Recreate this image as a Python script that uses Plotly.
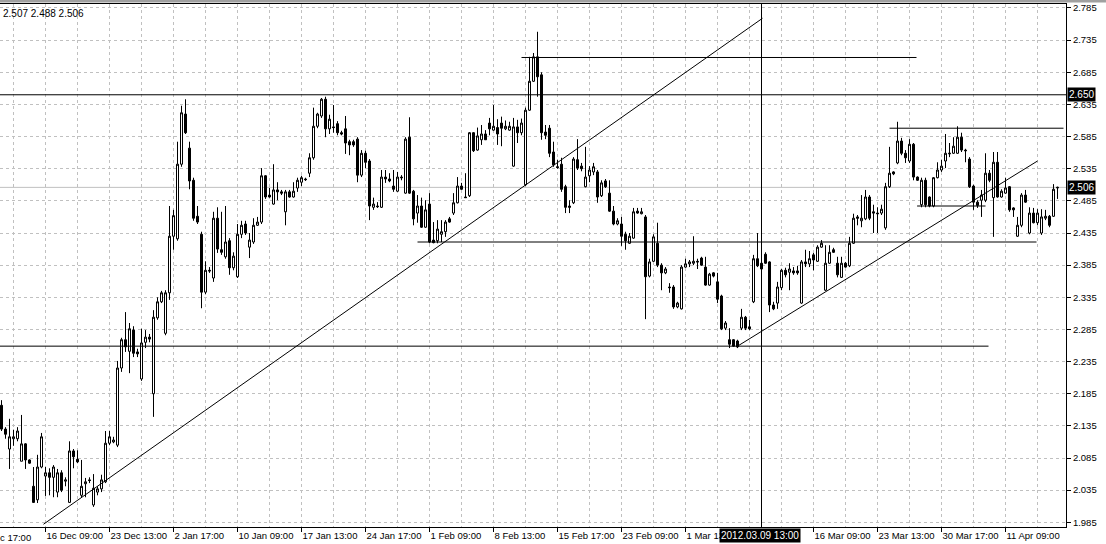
import plotly.graph_objects as go

# ---------------- data (bar index = position on the time axis) ----------------
bars = list(range(265))

opens = [
2.167,2.130,2.099,2.115,2.115,2.080,2.107,2.082,2.041,2.020,
2.071,2.057,2.062,2.055,2.032,2.062,2.049,2.016,2.096,2.083,
2.027,2.045,2.051,2.012,2.032,2.037,2.048,2.108,2.110,2.105,
2.225,2.269,2.251,2.284,2.250,2.208,2.265,2.273,2.185,2.303,
2.328,2.279,2.342,2.430,2.426,2.542,2.620,2.567,2.517,2.461,
2.433,2.343,2.377,2.365,2.458,2.409,2.398,2.423,2.381,2.367,
2.433,2.449,2.413,2.421,2.447,2.452,2.524,2.494,2.480,2.502,
2.499,2.468,2.499,2.491,2.505,2.514,2.519,2.528,2.552,2.601,
2.617,2.643,2.597,2.600,2.605,2.591,2.597,2.577,2.577,2.581,
2.525,2.559,2.547,2.475,2.477,2.475,2.522,2.519,2.508,2.500,
2.522,2.497,2.584,2.500,2.466,2.477,2.444,2.480,2.424,2.423,
2.433,2.437,2.457,2.466,2.482,2.508,2.491,2.493,2.591,2.564,
2.580,2.589,2.606,2.595,2.599,2.606,2.597,2.595,2.539,2.600,
2.591,2.510,2.626,2.671,2.709,2.681,2.592,2.598,2.561,2.538,
2.542,2.507,2.477,2.482,2.549,2.539,2.507,2.524,2.530,2.530,
2.493,2.516,2.497,2.469,2.449,2.449,2.433,2.419,2.427,2.469,
2.465,2.460,2.368,2.391,2.419,2.385,2.373,2.351,2.351,2.320,
2.317,2.382,2.387,2.388,2.391,2.396,2.382,2.354,2.373,2.359,
2.337,2.287,2.269,2.269,2.267,2.287,2.304,2.289,2.328,2.395,
2.388,2.402,2.390,2.323,2.326,2.350,2.377,2.374,2.376,2.376,
2.326,2.390,2.387,2.401,2.391,2.413,2.346,2.388,2.409,2.388,
2.366,2.388,2.384,2.419,2.460,2.454,2.457,2.491,2.468,2.466,
2.466,2.443,2.507,2.530,2.544,2.578,2.559,2.547,2.573,2.522,
2.479,2.517,2.491,2.477,2.521,2.533,2.547,2.558,2.559,2.559,
2.584,2.564,2.550,2.508,2.483,2.486,2.486,2.528,2.490,2.545,
2.491,2.497,2.507,2.474,2.430,2.447,2.494,2.435,2.466,2.451,
2.435,2.458,2.461,2.461,2.505]

highs = [
2.175,2.133,2.146,2.129,2.133,2.152,2.108,2.083,2.071,2.090,
2.124,2.071,2.069,2.074,2.068,2.066,2.055,2.111,2.099,2.097,
2.082,2.054,2.055,2.060,2.041,2.059,2.127,2.127,2.118,2.236,
2.272,2.312,2.295,2.290,2.255,2.286,2.284,2.278,2.315,2.335,
2.345,2.346,2.477,2.471,2.577,2.633,2.643,2.577,2.521,2.477,
2.437,2.391,2.382,2.468,2.475,2.468,2.477,2.427,2.405,2.449,
2.454,2.454,2.435,2.458,2.460,2.536,2.525,2.505,2.542,2.514,
2.502,2.502,2.502,2.514,2.521,2.524,2.521,2.559,2.630,2.622,
2.645,2.647,2.619,2.634,2.609,2.594,2.617,2.580,2.580,2.584,
2.564,2.563,2.550,2.490,2.483,2.533,2.533,2.528,2.533,2.530,
2.525,2.584,2.615,2.502,2.494,2.490,2.486,2.497,2.452,2.455,
2.455,2.455,2.460,2.497,2.522,2.513,2.528,2.592,2.592,2.599,
2.603,2.595,2.614,2.634,2.612,2.616,2.610,2.608,2.614,2.611,
2.613,2.630,2.709,2.715,2.748,2.685,2.603,2.603,2.577,2.549,
2.552,2.510,2.486,2.553,2.581,2.544,2.569,2.539,2.544,2.533,
2.517,2.519,2.517,2.477,2.458,2.460,2.437,2.435,2.474,2.474,
2.474,2.463,2.395,2.433,2.451,2.388,2.382,2.357,2.354,2.328,
2.385,2.395,2.393,2.430,2.395,2.398,2.398,2.373,2.374,2.373,
2.339,2.298,2.287,2.270,2.269,2.317,2.306,2.300,2.401,2.435,
2.398,2.405,2.391,2.328,2.359,2.379,2.381,2.388,2.382,2.384,
2.393,2.409,2.407,2.404,2.416,2.424,2.416,2.416,2.412,2.398,
2.398,2.390,2.429,2.465,2.463,2.494,2.502,2.494,2.479,2.475,
2.479,2.513,2.569,2.531,2.608,2.583,2.564,2.581,2.575,2.523,
2.521,2.521,2.492,2.522,2.545,2.549,2.589,2.575,2.584,2.601,
2.591,2.566,2.553,2.510,2.486,2.502,2.559,2.533,2.561,2.561,
2.503,2.521,2.508,2.475,2.460,2.497,2.502,2.475,2.474,2.472,
2.472,2.471,2.463,2.511,2.507]

lows = [
2.127,2.115,2.068,2.104,2.111,2.080,2.068,2.076,2.015,2.015,
2.069,2.026,2.027,2.024,2.024,2.032,2.041,2.015,2.069,2.077,
2.024,2.024,2.046,2.009,2.027,2.032,2.046,2.105,2.108,2.102,
2.219,2.250,2.217,2.242,2.242,2.205,2.256,2.265,2.149,2.300,
2.326,2.276,2.331,2.409,2.423,2.538,2.589,2.503,2.454,2.449,
2.318,2.340,2.373,2.359,2.404,2.401,2.395,2.370,2.377,2.365,
2.427,2.432,2.396,2.418,2.446,2.449,2.488,2.490,2.479,2.486,
2.494,2.447,2.490,2.490,2.499,2.508,2.516,2.522,2.549,2.598,
2.614,2.584,2.589,2.591,2.587,2.587,2.558,2.556,2.569,2.514,
2.522,2.536,2.455,2.471,2.474,2.474,2.513,2.514,2.499,2.499,
2.517,2.496,2.496,2.447,2.451,2.443,2.443,2.419,2.419,2.419,
2.421,2.429,2.451,2.463,2.481,2.502,2.490,2.491,2.561,2.563,
2.572,2.580,2.587,2.594,2.572,2.570,2.595,2.594,2.538,2.575,
2.587,2.508,2.625,2.670,2.647,2.580,2.581,2.553,2.538,2.535,
2.499,2.466,2.466,2.480,2.533,2.531,2.506,2.514,2.525,2.482,
2.491,2.505,2.468,2.447,2.447,2.415,2.409,2.418,2.426,2.465,
2.464,2.301,2.366,2.390,2.382,2.346,2.371,2.342,2.317,2.318,
2.316,2.381,2.382,2.385,2.379,2.384,2.353,2.353,2.366,2.326,
2.284,2.284,2.256,2.258,2.256,2.284,2.284,2.284,2.326,2.382,
2.377,2.387,2.312,2.315,2.317,2.346,2.366,2.346,2.370,2.370,
2.325,2.382,2.382,2.377,2.390,2.412,2.345,2.387,2.404,2.366,
2.365,2.381,2.382,2.418,2.447,2.444,2.455,2.455,2.435,2.435,
2.463,2.440,2.505,2.525,2.542,2.556,2.544,2.544,2.517,2.516,
2.475,2.475,2.475,2.475,2.520,2.530,2.536,2.553,2.558,2.558,
2.561,2.545,2.505,2.471,2.474,2.460,2.483,2.514,2.429,2.490,
2.490,2.496,2.468,2.460,2.429,2.444,2.482,2.433,2.450,2.447,
2.432,2.455,2.444,2.460,2.488]

closes = [
2.130,2.122,2.118,2.118,2.127,2.107,2.082,2.077,2.016,2.071,
2.118,2.062,2.055,2.071,2.062,2.035,2.051,2.096,2.087,2.079,
2.041,2.048,2.050,2.038,2.037,2.051,2.108,2.118,2.113,2.225,
2.269,2.258,2.286,2.248,2.247,2.264,2.273,2.270,2.304,2.328,
2.342,2.342,2.430,2.462,2.542,2.622,2.591,2.516,2.458,2.452,
2.343,2.377,2.376,2.458,2.410,2.405,2.421,2.381,2.399,2.433,
2.447,2.435,2.424,2.447,2.452,2.524,2.491,2.491,2.502,2.499,
2.497,2.499,2.491,2.500,2.517,2.521,2.518,2.552,2.601,2.620,
2.643,2.597,2.612,2.599,2.591,2.589,2.575,2.572,2.572,2.525,
2.559,2.545,2.477,2.480,2.476,2.522,2.519,2.516,2.503,2.522,
2.521,2.581,2.497,2.457,2.477,2.444,2.471,2.421,2.420,2.441,
2.437,2.452,2.452,2.482,2.508,2.503,2.490,2.591,2.563,2.586,
2.589,2.580,2.597,2.601,2.589,2.598,2.601,2.601,2.600,2.591,
2.606,2.626,2.671,2.709,2.678,2.591,2.587,2.559,2.541,2.537,
2.503,2.475,2.475,2.550,2.536,2.535,2.522,2.533,2.538,2.491,
2.513,2.507,2.469,2.449,2.454,2.430,2.423,2.430,2.468,2.466,
2.468,2.367,2.390,2.429,2.385,2.373,2.379,2.350,2.320,2.326,
2.382,2.387,2.390,2.391,2.390,2.385,2.354,2.371,2.368,2.332,
2.286,2.295,2.262,2.259,2.258,2.304,2.287,2.286,2.395,2.384,
2.379,2.388,2.323,2.317,2.351,2.377,2.370,2.379,2.373,2.373,
2.390,2.387,2.395,2.393,2.413,2.419,2.388,2.405,2.405,2.370,
2.388,2.382,2.419,2.458,2.458,2.458,2.491,2.458,2.466,2.465,
2.472,2.507,2.528,2.527,2.578,2.559,2.552,2.573,2.522,2.517,
2.517,2.479,2.477,2.521,2.533,2.539,2.559,2.559,2.570,2.584,
2.564,2.563,2.507,2.483,2.478,2.494,2.528,2.517,2.545,2.491,
2.500,2.505,2.471,2.471,2.447,2.494,2.483,2.466,2.451,2.466,
2.460,2.461,2.447,2.503,2.506]

tick_bars = [11, 27, 43, 59, 75, 91, 107, 123, 139, 155, 171, 203, 219, 235, 251]
tick_labels = ["16 Dec 09:00", "23 Dec 13:00", "2 Jan 17:00", "10 Jan 09:00",
               "17 Jan 13:00", "24 Jan 17:00", "1 Feb 09:00", "8 Feb 13:00",
               "15 Feb 17:00", "23 Feb 09:00", "1 Mar 13:00", "16 Mar 09:00",
               "23 Mar 13:00", "30 Mar 17:00", "11 Apr 09:00"]
price_ticks = [1.985, 2.035, 2.085, 2.135, 2.185, 2.235, 2.285, 2.335, 2.385,
               2.435, 2.485, 2.535, 2.585, 2.635, 2.685, 2.735, 2.785]

# horizontal drawn levels: price, first bar, last bar
level_prices = [2.259, 2.421, 2.708, 2.598, 2.477]
level_starts = [-0.4, 104.0, 130.0, 222.0, 228.9]
level_ends = [246.75, 258.75, 228.75, 265.5, 246.0]
full_level = 2.650
bid_price = 2.506

# trend lines
trend_x0 = [10.5, 183.75]
trend_y0 = [1.982, 2.258]
trend_x1 = [190.25, 259.0]
trend_y1 = [2.769, 2.547]

cross_bar = 190
cross_label = "2012.03.09 13:00"
header_text = "2.507 2.488 2.506"

# ---------------- figure ----------------
FONT = "Liberation Sans, Arial, sans-serif"
GRID = "#c0c0c0"

fig = go.Figure()
fig.add_trace(go.Candlestick(
    x=bars, open=opens, high=highs, low=lows, close=closes,
    increasing=dict(line=dict(color="black", width=1), fillcolor="white"),
    decreasing=dict(line=dict(color="black", width=1), fillcolor="black"),
    whiskerwidth=0, showlegend=False, hoverinfo="skip"))

shapes = []
shapes.append(dict(type="line", xref="paper", x0=0, x1=1, yref="y", y0=bid_price, y1=bid_price,
                   line=dict(color=GRID, width=1), layer="below"))
shapes.append(dict(type="line", xref="paper", x0=0, x1=1, yref="y", y0=full_level, y1=full_level,
                   line=dict(color="black", width=1)))
for p, a, b in zip(level_prices, level_starts, level_ends):
    shapes.append(dict(type="line", xref="x", x0=a, x1=b, yref="y", y0=p, y1=p,
                       line=dict(color="black", width=1)))
for xa, ya, xb, yb in zip(trend_x0, trend_y0, trend_x1, trend_y1):
    shapes.append(dict(type="line", xref="x", x0=xa, x1=xb, yref="y", y0=ya, y1=yb,
                       line=dict(color="black", width=1)))
shapes.append(dict(type="line", xref="x", x0=cross_bar, x1=cross_bar, yref="paper", y0=0, y1=1,
                   line=dict(color="black", width=1)))
shapes.append(dict(type="rect", xref="paper", x0=0, x1=1.0375, yref="paper",
                   y0=1 + 1.5 / 523, y1=1 + 4.0 / 523, fillcolor="#a0a0a0", line=dict(width=0)))

annotations = [
    dict(text=header_text, xref="paper", yref="paper", x=0, y=1, xanchor="left", yanchor="top",
         xshift=1, yshift=-2, showarrow=False, font=dict(family=FONT, size=10, color="black")),
    dict(text="2.650", xref="paper", yref="y", x=1, y=full_level, xanchor="left", yanchor="middle",
         xshift=1, showarrow=False, bgcolor="black", borderpad=1,
         font=dict(family=FONT, size=10, color="white")),
    dict(text="2.506", xref="paper", yref="y", x=1, y=bid_price, xanchor="left", yanchor="middle",
         xshift=1, showarrow=False, bgcolor="black", borderpad=1,
         font=dict(family=FONT, size=10, color="white")),
    dict(text=cross_label, xref="x", yref="paper", x=189.6, y=0, xanchor="center", yanchor="top",
         yshift=-1, showarrow=False, bgcolor="black", borderpad=1,
         font=dict(family=FONT, size=10, color="white")),
    dict(text="c 17:00", xref="paper", yref="paper", x=0, y=0, xanchor="left", yanchor="top",
         yshift=-3, xshift=-2, showarrow=False, font=dict(family=FONT, size=9.5, color="black")),
]

fig.update_layout(
    width=1106, height=544,
    margin=dict(l=0, r=40, t=4, b=17),
    paper_bgcolor="white", plot_bgcolor="white",
    showlegend=False, boxgap=0.5, boxgroupgap=0,
    font=dict(family=FONT, size=9.5, color="black"),
    shapes=shapes, annotations=annotations,
)
fig.update_xaxes(
    range=[-0.375, 266.125], rangeslider=dict(visible=False),
    tickmode="array", tickvals=tick_bars, ticktext=tick_labels, tickangle=0,
    ticks="outside", ticklen=4, tickcolor="black", ticklabelposition="outside right",
    showgrid=True, gridcolor=GRID, griddash="3px,3px", gridwidth=1,
    minor=dict(tickmode="linear", tick0=3, dtick=8, showgrid=True, gridcolor=GRID,
               griddash="3px,3px", ticks=""),
    showline=True, linecolor="black", linewidth=1, mirror=True, zeroline=False,
)
fig.update_yaxes(
    side="right", range=[1.9777, 2.7912],
    tickmode="array", tickvals=price_ticks, tickformat=".3f",
    ticks="outside", ticklen=4, tickcolor="black",
    showgrid=True, gridcolor=GRID, griddash="3px,3px", gridwidth=1,
    showline=True, linecolor="black", linewidth=1, zeroline=False,
)

fig.write_html("out.html", config={"displayModeBar": False})
with open("out.html", "r", encoding="utf-8") as f:
    html = f.read()
html = html.replace("<head>", "<head><style>html,body{margin:0;padding:0;overflow:hidden;}</style>", 1)
with open("out.html", "w", encoding="utf-8") as f:
    f.write(html)
